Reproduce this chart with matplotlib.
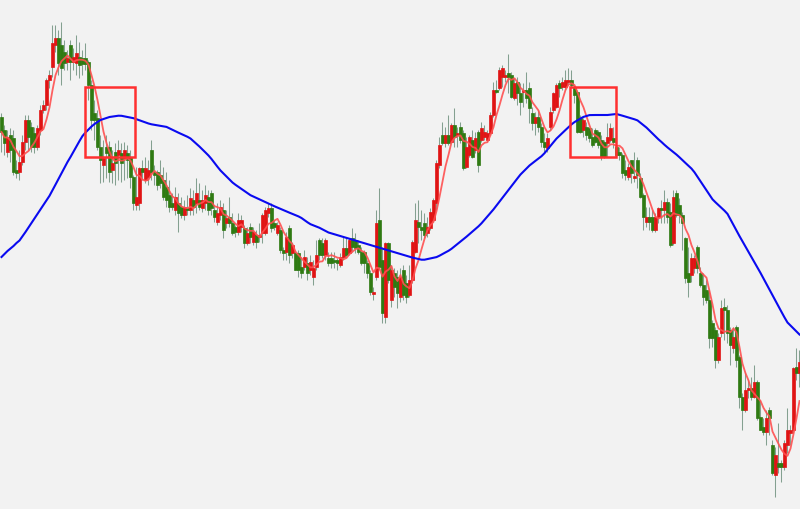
import numpy as np
import pandas as pd
import matplotlib
matplotlib.use("Agg")
import matplotlib.pyplot as plt
from matplotlib.patches import Rectangle

opens = [383,370,348,365,362,330,328,338,358,380, 373,367,353,370,390,395,420,433,455,462,
         455,448,438,455,438,437,443,442,442,438, 415,387,382,353,335,353,353,330,348,345,
         347,342,347,343,323,295,297,332,320,323, 350,328,328,325,320,313,305,297,290,297,
         293,285,292,290,300,297,300,292,297,303, 307,290,278,285,290,277,283,277,273,268,
         273,272,257,273,258,265,263,267,267,287, 292,277,267,270,250,248,272,247,247,247,
         233,233,237,230,223,233,260,257,245,242, 242,240,240,235,243,252,247,262,260,255,
         248,248,237,227,206,223,280,240,183,257, 200,227,223,203,230,217,205,220,248,278,
         273,277,267,272,280,297,335,365,357,365, 358,375,365,373,367,333,345,360,350,368,
         360,363,360,367,385,410,412,423,423,427, 425,402,418,407,408,410,412,387,377,383,
         373,358,352,373,390,393,417,413,413,418, 420,413,408,382,370,373,372,363,370,368,
         360,358,357,360,362,353,348,345,330,323, 340,322,340,322,305,278,283,283,270,283,
         292,290,298,288,257,307,295,285,262,227, 225,232,253,227,215,210,200,177,170,140,
         167,193,190,170,152,173,143,103,90,110, 112,103,118,83,73,68,90,55,25,37,
         37,33,55,67,70,133,127]

highs = [387,375,370,372,370,340,350,365,385,385, 378,373,375,395,400,422,430,475,475,470,
         478,460,450,460,452,465,458,450,457,440, 420,400,390,365,360,365,359,350,357,360,
         357,358,355,350,325,333,333,340,343,340, 360,335,330,340,333,328,320,307,313,307,
         303,300,305,312,310,322,317,310,315,310, 310,295,297,300,297,290,303,287,275,287,
         285,275,273,277,273,270,277,287,293,297, 297,280,278,273,253,268,275,258,250,250,
         243,250,243,245,240,260,262,262,262,248, 248,248,242,247,263,263,262,272,267,260,
         253,250,240,230,213,290,312,253,258,258, 235,232,230,232,235,225,235,260,297,300,
         290,287,283,292,302,340,363,378,373,385, 377,392,373,378,370,363,365,370,368,370,
         378,375,370,388,418,420,433,435,430,446, 428,422,423,417,417,428,418,393,388,390,
         377,367,367,393,408,417,420,423,430,432, 430,415,410,385,382,378,373,372,372,370,
         365,360,377,377,373,357,353,347,340,337, 340,348,343,327,307,293,293,290,287,293,
         300,310,302,297,310,310,302,288,263,253, 247,245,255,233,227,220,210,180,173,167,
         200,202,195,173,173,175,145,107,128,120, 123,135,120,100,82,90,93,60,53,77,
         40,60,92,75,133,152,150]

lows = [348,345,343,338,325,322,320,335,350,350, 348,347,350,365,387,390,412,423,448,425,
        415,430,430,420,430,425,422,425,430,400, 370,360,350,317,318,322,318,317,315,320,
        318,320,322,312,290,290,290,320,317,315, 320,315,310,312,300,293,288,290,285,268,
        282,280,285,285,285,287,290,288,290,285, 285,278,275,280,262,272,273,265,263,265,
        268,252,255,257,255,252,258,257,265,283, 268,270,265,247,240,240,237,242,230,223,
        222,230,220,225,215,230,240,242,240,234, 232,232,230,233,240,243,245,248,247,246,
        235,227,222,205,200,220,230,177,177,217, 193,203,192,198,200,197,203,217,247,257,
        260,262,263,270,278,290,332,355,353,355, 357,353,353,357,330,332,343,342,347,328,
        358,360,359,365,383,407,410,413,418,407, 402,400,395,385,393,397,377,370,365,368,
        353,348,348,370,387,392,403,410,410,415, 412,397,367,367,363,360,358,353,357,352,
        340,342,343,358,352,343,340,322,320,320, 317,318,312,302,270,273,270,268,268,277,
        277,277,277,253,255,283,277,250,217,203, 218,227,227,213,195,197,152,153,132,137,
        163,160,157,135,147,133,92,70,88,102, 100,102,80,70,65,55,65,25,3,27,
        18,30,47,55,67,120,113]

closes = [368,357,363,350,328,327,338,358,380,363, 353,353,372,390,395,420,425,457,462,437,
          432,437,442,438,443,447,435,436,436,415, 380,380,353,340,342,347,328,337,337,350,
          337,350,340,323,297,303,332,328,332,330, 328,325,315,317,303,300,293,293,303,287,
          285,293,290,302,293,307,293,300,305,290, 292,283,287,293,270,282,277,267,268,280,
          280,257,267,263,268,258,265,285,290,292, 272,273,275,250,247,263,245,255,230,230,
          227,243,227,238,232,245,245,245,260,237, 237,238,237,243,252,245,260,253,252,248,
          237,237,227,208,208,277,233,187,257,220, 230,213,207,223,205,203,220,258,280,273,
          270,265,273,288,300,337,355,357,365,357, 375,363,367,360,332,353,363,343,362,335,
          372,368,367,385,410,408,430,432,425,423, 403,417,407,398,410,402,392,377,383,373,
          358,353,362,388,407,415,412,418,420,420, 415,405,368,368,380,365,362,355,358,355,
          343,343,363,372,358,345,345,327,325,333, 327,323,325,303,283,283,278,270,283,292,
          290,298,283,255,303,285,285,277,222,218, 242,242,232,215,203,200,162,162,140,163,
          192,190,167,155,163,140,103,90,110,112, 103,118,82,70,68,82,82,27,45,33,
          33,57,70,70,132,127,138]

ma_long = [243,246,249,251.5,254,257,259.5,263.7,268,272.5, 277,281.3,286,290.4,295,299.6,304.2,309.7,315.4,321,
           326.6,332.3,338,343,348.4,353.6,359,364,367.5,370.5, 373.5,376,378,380,381,382,383,383.4,383.8,384.3,
           384.2,383.6,383,382.5,381.8,380.8,379.7,378.6,377.6,376.5, 375.7,375.2,374.7,374.1,373.6,373.1,371.7,370.2,368.7,367.3,
           365.9,364.5,363.2,361.5,358.8,356.1,353.4,350.5,347.5,344.5, 341,337.1,333.2,329.5,326.5,323.5,320.5,317.5,315.2,313.1,
           311,308.9,306.8,304.8,303.4,301.9,300.5,299.1,297.7,296.3, 295,293.7,292.4,291.1,289.8,288.6,287.3,286.1,284.9,283.6,
           282,279.8,277.7,275.8,274.6,273.4,272.2,270.6,268.9,267.5, 266.6,265.7,264.7,263.8,262.9,262,261.1,260.2,259.3,258.4,
           257.6,256.7,255.8,254.9,254,253.1,252.2,251.3,250.3,249.4, 248.5,247.6,246.7,245.8,244.9,244,243.1,242.4,241.7,241,
           240.3,240.3,241,241.6,242.2,242.9,244.3,246,247.6,249.2, 251.2,253.6,256,258.4,260.8,263.3,265.9,268.5,271.1,273.7,
           276.7,280.2,283.7,287.1,290.6,294.5,298.4,302.2,306.1,310, 313.9,317.8,321.7,325.5,328.5,331.5,334.5,336.9,339.2,341.5,
           343.8,346.8,350.5,354.1,357.8,361.4,364.3,367.2,370,372.8, 375.6,377.9,379.7,381.5,383.1,384,384.9,385,385,385,
           385,385,385,385.3,385.6,386,385.2,384.3,383.4,382.5, 381.6,380.7,379.6,377.2,374.8,372.4,369.5,366.5,363.5,360.6,
           358,355.2,352.6,350.2,347.8,345.4,342.7,339.8,337,334.2, 331.4,327.7,323.2,318.7,314.2,309.7,305.2,300.7,297.7,294.9,
           292.1,289.3,286.1,280.5,275,269.5,263.9,258.6,253.4,248.1, 242.9,237.6,232.4,227.1,221.5,215.9,210.3,204.7,199.1,193.6,
           188.1,182.6,177.5,174.5,171.5,168.5,165.5]

short_window = 6

# highlighted zones: candle index range and price range
zone_start = [27.8, 189.5]
zone_end = [44.5, 204.8]
zone_low = [343, 343]
zone_high = [413, 413]

BG = "#f2f2f2"
fig = plt.figure(figsize=(8, 5.09), dpi=100, facecolor=BG)
ax = fig.add_axes([0, 0, 1, 1])
ax.set_facecolor(BG)

o = np.array(opens, float)
h = np.array(highs, float)
l = np.array(lows, float)
c = np.array(closes, float)
idx = np.arange(len(c))
up = c >= o

ax.vlines(idx, l, h, color="#84a090", lw=0.75, zorder=1)
body_bottom = np.minimum(o, c)
body_h = np.maximum(np.abs(c - o), 1.8)
cols = np.where(up, "#e01414", "#2f7a12")
ax.bar(idx, body_h, bottom=body_bottom, width=0.72,
       color=cols, edgecolor=cols, linewidth=0.5, zorder=2)

ma_short = pd.Series(closes, dtype=float).rolling(short_window, min_periods=1).mean()
ax.plot(idx, ma_short, color="#ff5050", lw=1.3, alpha=0.9, zorder=3)
ax.plot(idx, ma_long, color="#0a0af0", lw=1.5, zorder=3)

for x0, x1, lo, hi in zip(zone_start, zone_end, zone_low, zone_high):
    ax.add_patch(Rectangle((x0, lo), x1 - x0, hi - lo, fill=False,
                           edgecolor="#ff3030", lw=1.8, zorder=4))

ax.set_xlim(-0.5, 266.17)
ax.set_ylim(-9, 500)
ax.axis("off")
fig.savefig("out.png", dpi=100, facecolor=BG)
